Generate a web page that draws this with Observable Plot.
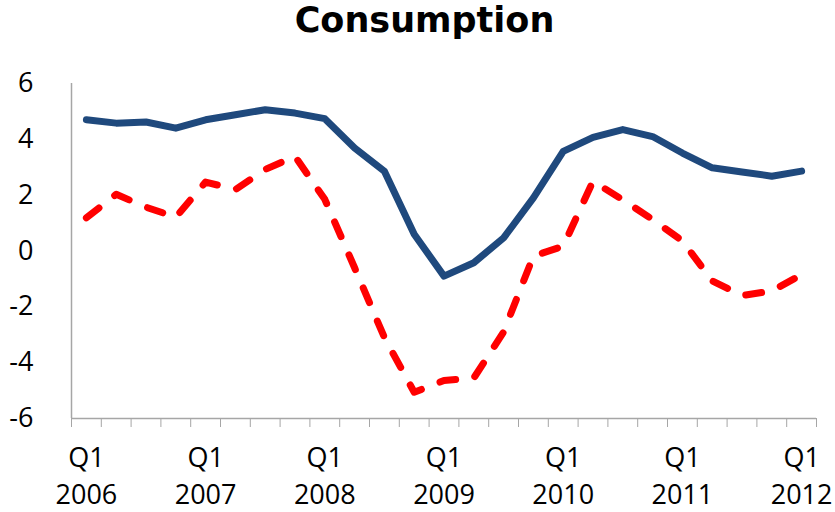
<!DOCTYPE html>
<html>
<head>
<meta charset="utf-8">
<script src="https://cdn.jsdelivr.net/npm/d3@7"></script>
<script src="https://cdn.jsdelivr.net/npm/@observablehq/plot@0.6"></script>
<style>
  html, body { margin: 0; padding: 0; background: #fff; overflow: hidden; }
  #title { width: 835px; height: 50px; text-align: center; font-family: "DejaVu Sans", sans-serif; font-weight: bold; font-size: 35px; line-height: 41px; color: #000; padding-left: 14px; box-sizing: border-box; white-space: nowrap; }
  #chart svg { display: block; }
</style>
</head>
<body>
<div id="title">Consumption</div>
<div id="chart"></div>
<script>
const quarters = ["Q1 2006","Q2 2006","Q3 2006","Q4 2006","Q1 2007","Q2 2007","Q3 2007","Q4 2007",
  "Q1 2008","Q2 2008","Q3 2008","Q4 2008","Q1 2009","Q2 2009","Q3 2009","Q4 2009",
  "Q1 2010","Q2 2010","Q3 2010","Q4 2010","Q1 2011","Q2 2011","Q3 2011","Q4 2011","Q1 2012"];
const seriesSolid = [4.70, 4.58, 4.62, 4.40, 4.70, 4.88, 5.06, 4.94, 4.74, 3.69, 2.86, 0.60,
  -0.90, -0.42, 0.47, 1.90, 3.57, 4.07, 4.35, 4.10, 3.51, 2.98, 2.83, 2.68, 2.86];
const seriesDashed = [1.19, 2.03, 1.57, 1.21, 2.47, 2.20, 2.92, 3.39, 1.85, -0.60, -3.10, -5.06,
  -4.64, -4.55, -2.90, -0.18, 0.17, 2.50, 1.83, 1.13, 0.36, -1.07, -1.60, -1.43, -0.85];
const yTicks = [-6, -4, -2, 0, 2, 4, 6];
const labelEvery = 4;

const dataSolid = quarters.map((q, i) => ({i, q, v: seriesSolid[i]}));
const dataDashed = quarters.map((q, i) => ({i, q, v: seriesDashed[i]}));
const boundaries = d3.range(quarters.length + 1).map(k => k - 0.5);
const labelIdx = d3.range(0, quarters.length, labelEvery);
const fmt = i => { const [a, b] = quarters[i].split(" "); return a + "\n" + b; };

const chart = Plot.plot({
  width: 835,
  height: 462,
  marginLeft: 71,
  marginRight: 19,
  marginTop: 33,
  marginBottom: 94,
  style: { fontFamily: "'Open Sans', sans-serif", fontSize: "27px", color: "#000", background: "#fff" },
  x: { type: "linear", domain: [-0.5, quarters.length - 0.5] },
  y: { domain: [-6, 6] },
  marks: [
    Plot.axisY({ ticks: yTicks, tickSize: 0, tickPadding: 38, label: null, fontSize: 27, tickFormat: d => d }),
    Plot.axisX({ ticks: boundaries, tickSize: 9, tickFormat: () => "", label: null, stroke: "#a6a6a6", strokeOpacity: 1 }),
    Plot.axisX({ ticks: labelIdx, tickSize: 0, tickPadding: 22, label: null, tickFormat: fmt, fontSize: 27, lineHeight: 1.37 }),
    Plot.ruleX([-0.5], { stroke: "#a6a6a6", strokeWidth: 1.5 }),
    Plot.ruleY([-6], { stroke: "#a6a6a6", strokeWidth: 1.5 }),
    Plot.line(dataDashed, { x: "i", y: "v", stroke: "#ff0000", strokeWidth: 7, strokeDasharray: "16,20", strokeLinecap: "round", strokeLinejoin: "round" }),
    Plot.line(dataSolid, { x: "i", y: "v", stroke: "#1f497d", strokeWidth: 7, strokeLinecap: "round", strokeLinejoin: "round" })
  ]
});
document.getElementById("chart").appendChild(chart);
</script>
</body>
</html>
